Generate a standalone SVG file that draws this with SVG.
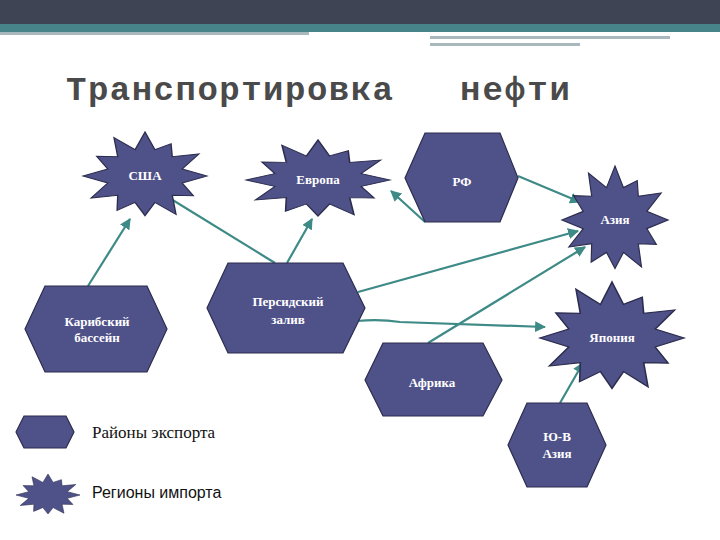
<svg xmlns="http://www.w3.org/2000/svg" width="720" height="540" viewBox="0 0 720 540">
<style>
.n{fill:#4f5189;stroke:#2c2d4e;stroke-width:1.2}
.s{fill:#4f5189;stroke:#2c2d4e;stroke-width:2.2}
.t{fill:#fff;font-family:"Liberation Serif",serif;font-weight:bold;font-size:13px;text-anchor:middle}
.c{stroke:#3d8a86;stroke-width:2.2;fill:none;marker-end:url(#a)}
</style>
<defs>
<marker id="a" viewBox="0 0 10 10" refX="9" refY="5" markerWidth="5" markerHeight="5" orient="auto" markerUnits="strokeWidth"><path d="M0,0L10,5L0,10z" fill="#3d8a86"/></marker>
<path id="st" d="M0,-100L16,-60L42,-73L44,-44L87,-50L60,-16L100,0L60,16L78,45L44,44L50,87L16,60L0,90L-16,60L-45,78L-44,44L-87,50L-60,16L-100,0L-60,-16L-78,-45L-44,-44L-50,-87L-16,-60z"/>
</defs>
<rect x="0" y="0" width="720" height="24" fill="#3f4455"/>
<rect x="0" y="24" width="720" height="8" fill="#46848a"/>
<rect x="0" y="32" width="309" height="3" fill="#a9b8bc"/>
<rect x="430" y="36" width="240" height="3" fill="#a9b8bc"/>
<rect x="430" y="43" width="150" height="3" fill="#a9b8bc"/>
<text x="66" y="100" font-family="'Liberation Mono',monospace" font-weight="bold" font-size="34" fill="#4a4a4a" textLength="327">Транспортировка</text>
<text x="460" y="100" font-family="'Liberation Mono',monospace" font-weight="bold" font-size="34" fill="#4a4a4a" textLength="110">нефти</text>
<g id="connectors">
<line class="c" x1="88" y1="286" x2="130" y2="219"/>
<line class="c" x1="275" y1="263" x2="158" y2="191"/>
<line class="c" x1="287" y1="263" x2="312" y2="219"/>
<line class="c" x1="425" y1="222" x2="391" y2="191"/>
<line class="c" x1="518" y1="176" x2="580" y2="202"/>
<line class="c" x1="358" y1="292" x2="578" y2="231"/>
<line class="c" x1="428" y1="343" x2="585" y2="247"/>
<path class="c" d="M357,321Q380,319 400,322L545,327"/>
<line class="c" x1="560" y1="403" x2="583" y2="363"/>
</g>
<g id="usa"><use href="#st" class="s" transform="translate(145,176) scale(0.62,0.44)"/><text class="t" x="145" y="180">США</text></g>
<g id="europe"><use href="#st" class="s" transform="translate(318,180) scale(0.72,0.40)"/><text class="t" x="318" y="184">Европа</text></g>
<g id="rf"><polygon class="n" points="405,178 425,133 500,133 518,178 500,222 425,222"/><text class="t" x="462" y="186" font-size="19">РФ</text></g>
<g id="asia"><use href="#st" class="s" transform="translate(615,220) scale(0.53,0.54)"/><text class="t" x="615" y="224">Азия</text></g>
<g id="caribbean"><polygon class="n" points="25,329 45,286 147,286 167,329 147,372 45,372"/><text class="t" x="97" y="326">Карибский</text><text class="t" x="97" y="342">бассейн</text></g>
<g id="persian"><polygon class="n" points="207,308 228,263 343,263 365,308 343,353 228,353"/><text class="t" x="288" y="306">Персидский</text><text class="t" x="288" y="324">залив</text></g>
<g id="africa"><polygon class="n" points="365,380 383,343 483,343 502,380 483,416 383,416"/><text class="t" x="432" y="387" font-size="18">Африка</text></g>
<g id="japan"><use href="#st" class="s" transform="translate(612,338) scale(0.72,0.56)"/><text class="t" x="612" y="342">Япония</text></g>
<g id="seasia"><polygon class="n" points="508,445 527,403 587,403 606,445 587,487 527,487"/><text class="t" x="557" y="441">Ю-В</text><text class="t" x="557" y="458">Азия</text></g>
<g id="legend">
<polygon class="n" points="16,432 24,416 66,416 74,432 66,448 24,448"/>
<text x="92" y="438" font-family="'Liberation Serif',serif" font-size="17" fill="#111">Районы экспорта</text>
<use href="#st" class="s" transform="translate(48,495) scale(0.32,0.21)"/>
<text x="92" y="498" font-family="'Liberation Sans',sans-serif" font-size="16" fill="#111">Регионы импорта</text>
</g>
</svg>
